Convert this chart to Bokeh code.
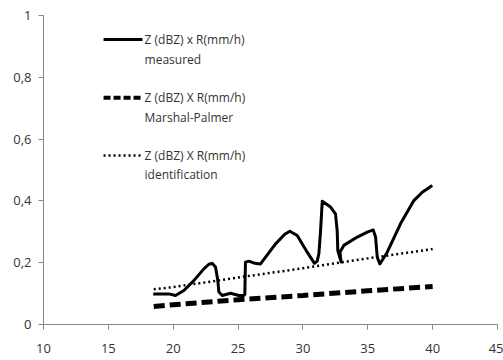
from bokeh.plotting import figure
from bokeh.models import Range1d, FixedTicker, Label, Arrow
from bokeh.embed import file_html
from bokeh.resources import INLINE

# ---- data ----
measured_x = [18.46, 19.66, 20.18, 20.82, 21.59, 22.36, 22.75, 23.0, 23.26, 23.44, 23.52, 23.78,
              24.42, 25.06, 25.45, 25.52, 25.57, 25.83, 26.3, 26.73, 27.89, 28.6, 28.99, 29.56,
              30.33, 30.89, 31.1, 31.23, 31.36, 31.49, 32.13, 32.51, 32.64, 32.69, 32.95, 32.85,
              33.15, 34.19, 35.0, 35.42, 35.6, 35.73, 35.93, 36.5, 37.52, 38.55, 39.2, 39.97]
measured_y = [0.099, 0.099, 0.094, 0.110, 0.142, 0.18, 0.195, 0.198, 0.186, 0.142, 0.105, 0.094,
              0.101, 0.094, 0.094, 0.097, 0.202, 0.205, 0.198, 0.196, 0.261, 0.292, 0.302, 0.288,
              0.234, 0.198, 0.205, 0.229, 0.304, 0.399, 0.38, 0.358, 0.304, 0.239, 0.202, 0.234,
              0.256, 0.283, 0.300, 0.306, 0.283, 0.218, 0.196, 0.234, 0.326, 0.401, 0.428, 0.45]

mp_x = [18.5, 20, 25, 30, 35, 40]
mp_y = [0.058, 0.064, 0.08, 0.094, 0.109, 0.123]

ident_x = [18.5, 20, 25, 30, 35, 40]
ident_y = [0.114, 0.121, 0.152, 0.182, 0.214, 0.244]

x_ticks = [10, 15, 20, 25, 30, 35, 40, 45]
y_ticks = [0, 0.2, 0.4, 0.6, 0.8, 1]
y_tick_labels = ["0", "0,2", "0,4", "0,6", "0,8", "1"]

legend_lines = [["Z (dBZ) x R(mm/h)", "measured"],
                ["Z (dBZ) X R(mm/h)", "Marshal-Palmer"],
                ["Z (dBZ) X R(mm/h)", "identification"]]

# ---- styling ----
FONT = "Open Sans"
TXT = "#333333"
AX = "#868686"

p = figure(width=503, height=360, output_backend="svg", toolbar_location=None,
           x_range=Range1d(10, 45), y_range=Range1d(0, 1),
           min_border_left=43, min_border_right=6, min_border_top=15, min_border_bottom=36)
p.outline_line_color = None
p.grid.visible = False
p.background_fill_color = "white"

p.xaxis.ticker = FixedTicker(ticks=x_ticks)
p.yaxis.ticker = FixedTicker(ticks=y_ticks)
p.yaxis.major_label_overrides = {t: l for t, l in zip(y_ticks, y_tick_labels)}
for ax in (p.xaxis, p.yaxis):
    ax.axis_line_color = AX
    ax.major_tick_line_color = AX
    ax.minor_tick_line_color = None
    ax.major_tick_in = 0
    ax.major_tick_out = 5
    ax.major_label_text_font = FONT
    ax.major_label_text_font_size = "13px"
    ax.major_label_text_color = TXT
p.xaxis.major_label_standoff = 14
p.yaxis.major_label_standoff = 7

p.line(measured_x, measured_y, line_color="black", line_width=3, line_join="round")
p.line(mp_x, mp_y, line_color="black", line_width=5, line_dash="11 5")
p.line(ident_x, ident_y, line_color="black", line_width=2.5, line_dash="2 3")

# ---- manual legend (layout positions in data space of fixed ranges) ----
leg_x0, leg_x1, leg_tx = 14.63, 17.63, 17.79
leg_y = [0.922, 0.734, 0.547]
leg_dy = 0.063
styles = [dict(line_width=3, line_dash="solid"),
          dict(line_width=4, line_dash="7 3"),
          dict(line_width=2.5, line_dash="2 3")]
for yy, st, txt in zip(leg_y, styles, legend_lines):
    p.add_layout(Arrow(end=None, x_start=leg_x0, y_start=yy, x_end=leg_x1, y_end=yy,
                       line_color="black", **st))
    for k, t in enumerate(txt):
        p.add_layout(Label(x=leg_tx, y=yy - k * leg_dy, text=t, text_font=FONT,
                           text_font_size="12px", text_color=TXT, text_baseline="middle"))

open("out.html", "w").write(file_html(p, INLINE))
